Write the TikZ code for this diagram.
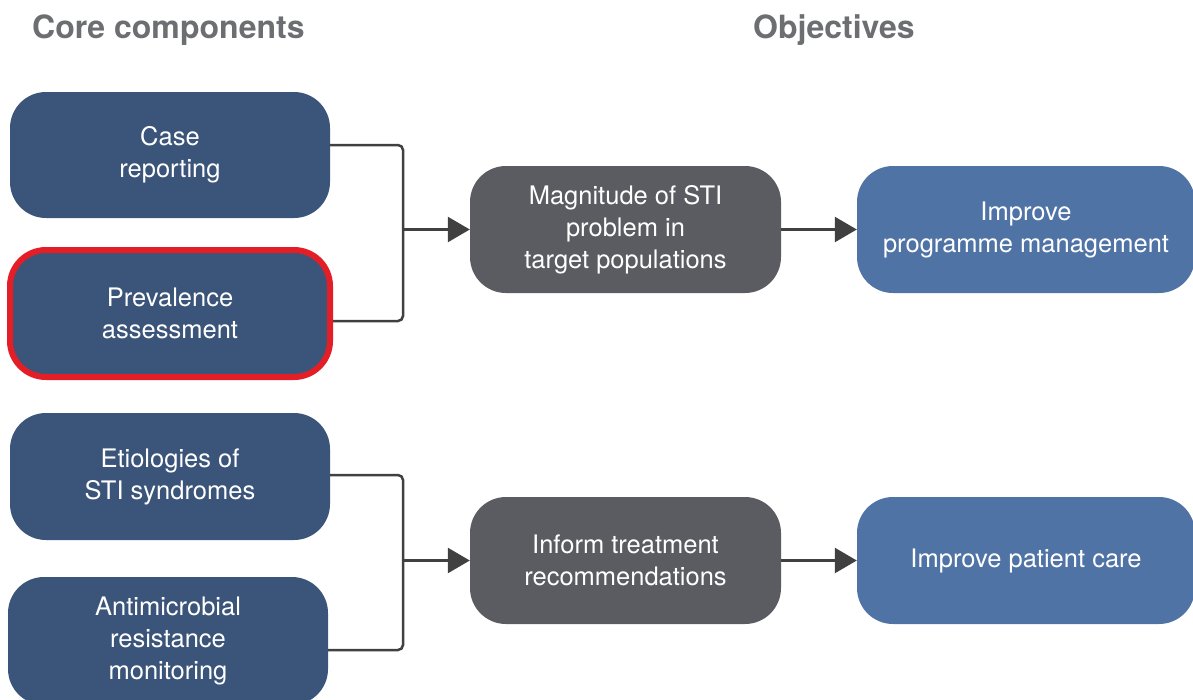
\documentclass[tikz,border=0pt]{standalone}
\usepackage{fontspec}
\setmainfont{TeX Gyre Heros}
\usetikzlibrary{arrows.meta,calc}
\definecolor{dblue}{HTML}{3B5479}
\definecolor{lblue}{HTML}{5073A6}
\definecolor{dgray}{HTML}{5B5B62}
\definecolor{hred}{HTML}{E41E26}
\definecolor{ttl}{HTML}{6D6E71}
\definecolor{conn}{HTML}{404040}
\begin{document}
\begin{tikzpicture}[x=1pt,y=-1pt,
  box/.style={rounded corners=36pt, minimum width=320pt, minimum height=126pt, inner sep=0pt,
    align=center, text=white, font=\fontsize{25.5}{32}\selectfont},
  title/.style={anchor=base west, inner sep=0pt, text=ttl, font=\fontsize{32}{36}\selectfont\bfseries},
  link/.style={draw=conn, line width=2.5pt, rounded corners=5pt},
  arr/.style={draw=conn, line width=2.5pt, -{Triangle[length=22pt,width=25pt]}}]
\useasboundingbox (0,0) rectangle (1193,699);
\node[title] (t1) at (32,38) {Core components};
\node[title] (t2) at (753,38) {Objectives};
\node[box, fill=dblue] (case) at (170,155) {Case\\reporting};
\node[box, fill=dblue, draw=hred, line width=6pt, minimum height=127pt] (prev) at (170,313.5) {Prevalence\\assessment};
\node[box, fill=dblue, minimum height=127pt] (etio) at (170,476.5) {Etiologies of\\STI syndromes};
\node[box, fill=dblue, minimum height=128pt] (amr) at (168,641) {Antimicrobial\\resistance\\monitoring};
\node[box, fill=dgray, minimum width=311pt, minimum height=127pt] (mag) at (625.5,229.5) {Magnitude of STI\\problem in\\target populations};
\node[box, fill=dgray, minimum width=311pt, minimum height=127pt] (inf) at (625.5,560.5) {Inform treatment\\recommendations};
\node[box, fill=lblue, minimum width=338pt, minimum height=127pt] (prog) at (1026,229.5) {Improve\\programme management};
\node[box, fill=lblue, minimum width=338pt, minimum height=127pt] (care) at (1026,560.5) {Improve patient care};
\coordinate (j1) at (403,229.5);
\coordinate (j2) at (403,560.5);
\draw[link] (case.east |- 0,145) -- (403,145) -- (403,321) -- (prev.east |- 0,321);
\draw[link] (etio.east |- 0,475) -- (403,475) -- (403,650) -- (amr.east |- 0,650);
\draw[arr] (j1) -- (mag.west);
\draw[arr] (j2) -- (inf.west);
\draw[arr] (mag.east) -- (prog.west);
\draw[arr] (inf.east) -- (care.west);
\end{tikzpicture}
\end{document}
